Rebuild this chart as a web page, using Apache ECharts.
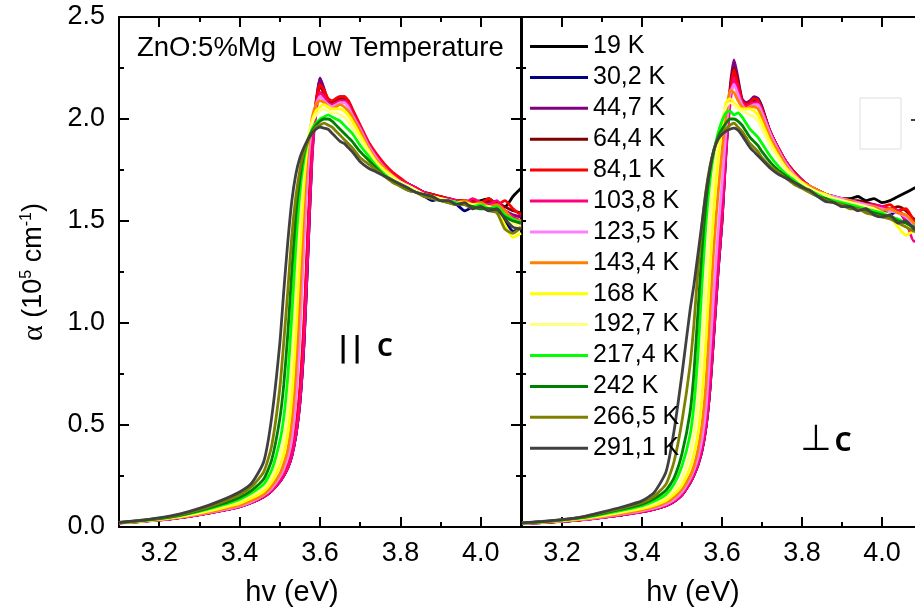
<!DOCTYPE html>
<html>
<head>
<meta charset="utf-8">
<title>ZnO:5%Mg absorption edge</title>
<script src="https://cdn.jsdelivr.net/npm/echarts@6/dist/echarts.min.js"></script>
<style>
  html, body { margin: 0; padding: 0; background: #fff; }
  #chart { width: 915px; height: 611px; }
</style>
</head>
<body>
<div id="chart"></div>
<script>
// Photon energy grids (eV) for the two polarisations
const xPar = [3.10,3.15,3.20,3.25,3.30,3.35,3.40,3.43,3.46,3.48,3.50,
  3.51,3.52,3.53,3.54,3.55,3.56,3.57,3.58,3.59,3.60,
  3.61,3.62,3.63,3.64,3.65,3.66,3.67,3.68,
  3.70,3.72,3.74,3.76,3.78,3.80,3.82,3.84,3.86,3.88,3.90,3.92,3.94,3.96,3.98,4.00,4.02,4.04,4.06,4.08,4.10];
const xPerp = [3.10,3.15,3.20,3.25,3.30,3.35,3.40,3.43,3.46,3.48,3.50,
  3.52,3.53,3.54,3.55,3.56,3.57,3.58,3.59,3.60,3.61,3.62,3.63,3.64,3.65,3.66,3.67,3.68,3.69,3.70,
  3.72,3.74,3.76,3.78,3.80,3.82,3.84,3.86,3.88,3.90,3.92,3.94,3.96,3.98,4.00,4.02,4.04,4.06,4.08,4.10];

// Temperatures
const temps = ['19 K','30,2 K','44,7 K','64,4 K','84,1 K','103,8 K','123,5 K','143,4 K',
  '168 K','192,7 K','217,4 K','242 K','266,5 K','291,1 K'];

// Absorption coefficient, E || c (10^5 cm^-1)
const par_19 = [0.020,0.027,0.035,0.046,0.061,0.079,0.100,0.120,0.148,0.178,0.222,
  0.252,0.29,0.35,0.45,0.61,0.90,1.35,1.82,2.05,2.18,
  2.12,2.07,2.06,2.08,2.09,2.09,2.07,2.03,
  1.95,1.87,1.81,1.77,1.73,1.70,1.68,1.66,1.64,1.63,1.62,1.61,1.60,1.60,1.59,1.60,1.61,1.58,1.57,1.62,1.66];
const par_30 = [0.020,0.027,0.035,0.046,0.061,0.079,0.100,0.120,0.148,0.178,0.222,
  0.252,0.29,0.35,0.45,0.61,0.89,1.34,1.82,2.06,2.20,
  2.14,2.08,2.07,2.09,2.10,2.10,2.08,2.04,
  1.95,1.87,1.81,1.77,1.73,1.70,1.67,1.65,1.62,1.60,1.61,1.60,1.58,1.55,1.57,1.58,1.56,1.55,1.50,1.45,1.47];
const par_44 = [0.020,0.027,0.035,0.046,0.061,0.079,0.100,0.120,0.149,0.179,0.224,
  0.255,0.295,0.36,0.47,0.64,0.94,1.40,1.86,2.08,2.20,
  2.15,2.09,2.08,2.10,2.11,2.11,2.09,2.05,
  1.96,1.88,1.82,1.77,1.73,1.70,1.68,1.66,1.64,1.62,1.62,1.60,1.59,1.59,1.58,1.58,1.59,1.57,1.55,1.53,1.52];
const par_64 = [0.020,0.027,0.035,0.046,0.061,0.079,0.100,0.121,0.150,0.180,0.226,
  0.258,0.30,0.37,0.48,0.66,0.97,1.43,1.86,2.06,2.16,
  2.13,2.09,2.08,2.09,2.10,2.10,2.08,2.04,
  1.96,1.88,1.82,1.77,1.73,1.70,1.68,1.66,1.64,1.63,1.61,1.60,1.60,1.59,1.60,1.58,1.60,1.59,1.57,1.55,1.54];
const par_84 = [0.020,0.027,0.035,0.046,0.061,0.079,0.100,0.121,0.150,0.181,0.228,
  0.260,0.305,0.375,0.49,0.68,1.00,1.46,1.88,2.08,2.17,
  2.14,2.10,2.09,2.10,2.11,2.11,2.09,2.05,
  1.97,1.89,1.83,1.78,1.74,1.71,1.68,1.66,1.64,1.63,1.62,1.61,1.60,1.60,1.59,1.59,1.61,1.58,1.60,1.56,1.53];
const par_103 = [0.019,0.026,0.034,0.045,0.060,0.078,0.099,0.120,0.148,0.178,0.222,
  0.252,0.29,0.35,0.45,0.61,0.90,1.35,1.80,2.03,2.13,
  2.11,2.08,2.07,2.08,2.09,2.09,2.07,2.03,
  1.96,1.88,1.82,1.77,1.73,1.70,1.68,1.66,1.64,1.62,1.61,1.61,1.60,1.59,1.61,1.59,1.58,1.60,1.55,1.52,1.50];
const par_123 = [0.020,0.027,0.035,0.047,0.062,0.080,0.102,0.124,0.156,0.190,0.245,
  0.285,0.34,0.43,0.62,0.95,1.38,1.76,1.97,2.07,2.11,
  2.09,2.07,2.06,2.07,2.08,2.08,2.06,2.02,
  1.95,1.87,1.81,1.76,1.72,1.69,1.67,1.65,1.63,1.62,1.61,1.60,1.59,1.58,1.57,1.58,1.56,1.57,1.53,1.50,1.48];
const par_143 = [0.020,0.027,0.036,0.048,0.064,0.084,0.107,0.130,0.160,0.200,0.260,
  0.31,0.38,0.52,0.76,1.12,1.55,1.86,2.00,2.07,2.09,
  2.08,2.06,2.05,2.06,2.07,2.06,2.04,2.01,
  1.94,1.86,1.80,1.76,1.72,1.69,1.67,1.65,1.63,1.62,1.61,1.60,1.59,1.60,1.58,1.59,1.57,1.58,1.55,1.51,1.50];
const par_168 = [0.020,0.028,0.037,0.050,0.068,0.090,0.116,0.142,0.175,0.22,0.30,
  0.36,0.46,0.64,0.95,1.33,1.68,1.89,1.99,2.04,2.06,
  2.07,2.06,2.05,2.05,2.05,2.04,2.02,1.99,
  1.92,1.85,1.79,1.75,1.72,1.69,1.67,1.65,1.63,1.62,1.61,1.60,1.59,1.59,1.58,1.58,1.56,1.55,1.48,1.42,1.44];
const par_192 = [0.021,0.029,0.039,0.053,0.072,0.097,0.126,0.155,0.19,0.245,0.35,
  0.43,0.57,0.82,1.18,1.52,1.77,1.91,1.98,2.02,2.04,
  2.05,2.04,2.03,2.03,2.02,2.01,1.99,1.96,
  1.90,1.84,1.78,1.74,1.71,1.69,1.67,1.65,1.63,1.62,1.61,1.60,1.59,1.58,1.58,1.57,1.57,1.55,1.52,1.49,1.47];
const par_217 = [0.021,0.030,0.040,0.055,0.076,0.103,0.135,0.167,0.21,0.28,0.42,
  0.54,0.74,1.04,1.38,1.64,1.80,1.89,1.95,1.98,2.00,
  2.01,2.02,2.01,2.00,1.99,1.97,1.95,1.93,
  1.87,1.82,1.77,1.73,1.70,1.68,1.66,1.64,1.63,1.62,1.60,1.60,1.59,1.58,1.57,1.58,1.56,1.57,1.53,1.51,1.49];
const par_242 = [0.021,0.030,0.041,0.057,0.080,0.109,0.145,0.180,0.235,0.33,0.53,
  0.70,0.95,1.26,1.53,1.71,1.83,1.90,1.94,1.97,1.99,
  2.00,2.00,1.99,1.97,1.95,1.93,1.91,1.89,
  1.84,1.80,1.76,1.72,1.70,1.67,1.65,1.64,1.62,1.61,1.60,1.59,1.58,1.58,1.57,1.56,1.56,1.55,1.52,1.50,1.49];
const par_266 = [0.022,0.031,0.043,0.060,0.085,0.117,0.158,0.198,0.27,0.40,0.68,
  0.91,1.16,1.43,1.62,1.75,1.84,1.89,1.93,1.96,1.97,
  1.98,1.97,1.96,1.94,1.92,1.90,1.88,1.86,
  1.81,1.78,1.75,1.72,1.69,1.67,1.65,1.64,1.62,1.61,1.60,1.59,1.58,1.58,1.56,1.57,1.55,1.54,1.46,1.44,1.47];
const par_291 = [0.022,0.032,0.045,0.063,0.091,0.127,0.172,0.215,0.32,0.54,0.90,
  1.16,1.40,1.60,1.73,1.81,1.86,1.90,1.93,1.95,1.96,
  1.955,1.95,1.93,1.91,1.89,1.88,1.86,1.84,
  1.79,1.76,1.74,1.72,1.70,1.68,1.66,1.64,1.63,1.62,1.60,1.60,1.58,1.59,1.56,1.57,1.55,1.56,1.51,1.47,1.46];

// Absorption coefficient, E ⊥ c (10^5 cm^-1)
const perp_19 = [0.018,0.022,0.028,0.036,0.047,0.060,0.075,0.087,0.105,0.125,0.158,
  0.215,0.255,0.305,0.375,0.49,0.68,0.96,1.25,1.50,1.84,2.10,2.24,2.16,2.08,2.06,2.07,2.09,2.09,2.05,
  1.94,1.86,1.79,1.73,1.70,1.67,1.65,1.63,1.62,1.61,1.61,1.62,1.60,1.61,1.59,1.60,1.62,1.64,1.66,1.68];
const perp_30 = [0.018,0.022,0.028,0.036,0.047,0.060,0.075,0.087,0.105,0.125,0.158,
  0.215,0.255,0.305,0.375,0.49,0.68,0.96,1.25,1.50,1.85,2.12,2.27,2.18,2.09,2.07,2.08,2.10,2.10,2.06,
  1.94,1.86,1.79,1.74,1.70,1.67,1.65,1.63,1.61,1.60,1.59,1.58,1.57,1.56,1.55,1.53,1.55,1.50,1.47,1.46];
const perp_44 = [0.018,0.022,0.028,0.036,0.047,0.060,0.075,0.088,0.106,0.127,0.160,
  0.22,0.26,0.31,0.385,0.50,0.70,0.99,1.28,1.53,1.88,2.15,2.29,2.20,2.10,2.08,2.09,2.11,2.10,2.05,
  1.93,1.85,1.79,1.74,1.70,1.67,1.65,1.63,1.62,1.60,1.60,1.59,1.58,1.57,1.56,1.55,1.55,1.52,1.50,1.48];
const perp_64 = [0.018,0.022,0.028,0.036,0.047,0.060,0.075,0.088,0.106,0.127,0.161,
  0.22,0.265,0.315,0.39,0.51,0.72,1.01,1.30,1.55,1.88,2.13,2.25,2.18,2.09,2.07,2.08,2.10,2.09,2.05,
  1.94,1.86,1.79,1.74,1.70,1.67,1.65,1.63,1.62,1.61,1.60,1.60,1.59,1.58,1.57,1.56,1.57,1.55,1.51,1.49];
const perp_84 = [0.018,0.022,0.028,0.036,0.047,0.060,0.075,0.088,0.107,0.128,0.162,
  0.225,0.27,0.32,0.40,0.52,0.74,1.03,1.32,1.56,1.88,2.12,2.24,2.17,2.09,2.07,2.08,2.10,2.09,2.05,
  1.94,1.86,1.79,1.74,1.70,1.67,1.65,1.63,1.61,1.61,1.60,1.59,1.58,1.57,1.57,1.58,1.55,1.56,1.50,1.47];
const perp_103 = [0.018,0.022,0.028,0.035,0.046,0.059,0.074,0.086,0.104,0.124,0.157,
  0.215,0.255,0.305,0.375,0.49,0.68,0.96,1.25,1.50,1.83,2.07,2.20,2.14,2.08,2.06,2.07,2.08,2.08,2.04,
  1.94,1.86,1.79,1.73,1.70,1.67,1.65,1.63,1.62,1.60,1.60,1.59,1.58,1.58,1.57,1.56,1.55,1.50,1.40,1.42];
const perp_123 = [0.018,0.023,0.029,0.037,0.049,0.063,0.079,0.092,0.112,0.134,0.172,
  0.235,0.28,0.34,0.43,0.58,0.86,1.16,1.44,1.68,1.94,2.12,2.17,2.12,2.07,2.05,2.06,2.07,2.07,2.03,
  1.93,1.85,1.78,1.73,1.69,1.67,1.65,1.63,1.62,1.61,1.60,1.59,1.58,1.57,1.56,1.55,1.54,1.52,1.48,1.46];
const perp_143 = [0.019,0.023,0.030,0.039,0.052,0.067,0.084,0.098,0.120,0.145,0.185,
  0.25,0.30,0.38,0.50,0.70,1.05,1.38,1.63,1.84,2.02,2.14,2.13,2.09,2.06,2.05,2.06,2.06,2.05,2.01,
  1.91,1.84,1.77,1.72,1.69,1.67,1.65,1.63,1.61,1.60,1.60,1.58,1.57,1.57,1.55,1.56,1.54,1.53,1.49,1.47];
const perp_168 = [0.019,0.024,0.031,0.041,0.055,0.072,0.090,0.106,0.130,0.160,0.205,
  0.29,0.36,0.46,0.64,0.92,1.27,1.57,1.80,1.96,2.08,2.10,2.08,2.06,2.05,2.05,2.05,2.04,2.02,1.98,
  1.89,1.82,1.76,1.72,1.69,1.66,1.64,1.63,1.61,1.60,1.59,1.58,1.57,1.55,1.54,1.52,1.47,1.43,1.45,1.44];
const perp_192 = [0.019,0.025,0.033,0.043,0.059,0.077,0.097,0.116,0.145,0.18,0.24,
  0.36,0.46,0.62,0.88,1.22,1.52,1.74,1.89,1.99,2.06,2.08,2.07,2.05,2.04,2.03,2.02,2.01,1.99,1.95,
  1.87,1.81,1.75,1.71,1.68,1.66,1.64,1.62,1.61,1.60,1.59,1.58,1.57,1.56,1.54,1.53,1.50,1.48,1.46,1.47];
const perp_217 = [0.019,0.025,0.034,0.045,0.062,0.082,0.104,0.126,0.16,0.21,0.30,
  0.45,0.60,0.85,1.19,1.49,1.70,1.84,1.93,1.99,2.03,2.04,2.02,2.03,2.01,1.98,1.95,1.93,1.91,1.88,
  1.82,1.77,1.73,1.70,1.67,1.65,1.63,1.61,1.60,1.59,1.58,1.57,1.56,1.55,1.54,1.52,1.51,1.49,1.47,1.48];
const perp_242 = [0.019,0.026,0.035,0.047,0.066,0.087,0.112,0.138,0.18,0.24,0.36,
  0.56,0.76,1.06,1.36,1.59,1.75,1.85,1.91,1.95,1.98,2.00,2.00,1.99,1.97,1.94,1.91,1.89,1.87,1.84,
  1.79,1.75,1.72,1.69,1.67,1.64,1.62,1.61,1.59,1.58,1.57,1.56,1.55,1.54,1.53,1.52,1.50,1.49,1.47,1.46];
const perp_266 = [0.020,0.026,0.035,0.048,0.069,0.092,0.119,0.150,0.21,0.32,0.52,
  0.79,1.00,1.26,1.48,1.65,1.77,1.85,1.90,1.93,1.95,1.97,1.98,1.96,1.94,1.91,1.88,1.86,1.84,1.81,
  1.77,1.74,1.71,1.68,1.66,1.64,1.62,1.60,1.59,1.58,1.56,1.56,1.54,1.53,1.52,1.51,1.49,1.47,1.45,1.44];
const perp_291 = [0.020,0.027,0.036,0.050,0.073,0.098,0.128,0.168,0.27,0.47,0.75,
  1.06,1.19,1.34,1.49,1.64,1.76,1.85,1.90,1.925,1.94,1.95,1.955,1.945,1.92,1.89,1.86,1.84,1.82,1.80,
  1.76,1.73,1.71,1.69,1.665,1.65,1.62,1.595,1.59,1.57,1.57,1.55,1.56,1.53,1.52,1.53,1.49,1.50,1.46,1.45];

// Axis tick positions
const xMajorTicks = [3.2, 3.4, 3.6, 3.8, 4.0];
const xMinorTicks = [3.3, 3.5, 3.7, 3.9];

const parSets = [par_19, par_30, par_44, par_64, par_84, par_103, par_123, par_143,
  par_168, par_192, par_217, par_242, par_266, par_291];
const perpSets = [perp_19, perp_30, perp_44, perp_64, perp_84, perp_103, perp_123, perp_143,
  perp_168, perp_192, perp_217, perp_242, perp_266, perp_291];

const lineColors = ['#000000','#000080','#800080','#800000','#ff0000','#ff0080','#ff80ff','#ff8000',
  '#ffff00','#ffff80','#00ff00','#008000','#808000','#404040'];

const FONT = "'Liberation Sans', Arial, sans-serif";
const AXIS_COLOR = '#000';

const chart = echarts.init(document.getElementById('chart'), null, { renderer: 'canvas' });

function xAxisPair(gridIndex, position, withLabels) {
  const base = {
    gridIndex, type: 'value', min: 3.1, max: 4.1, position,
    splitLine: { show: false }
  };
  const major = Object.assign({}, base, {
    axisLine: { show: true, onZero: false, lineStyle: { color: AXIS_COLOR, width: 2 } },
    axisTick: { show: true, inside: true, length: 10, customValues: xMajorTicks,
      lineStyle: { color: AXIS_COLOR, width: 2 } },
    axisLabel: withLabels ? {
      show: true, customValues: xMajorTicks, margin: 13,
      formatter: v => v.toFixed(1), fontSize: 27, fontFamily: FONT, color: '#000'
    } : { show: false }
  });
  const minor = Object.assign({}, base, {
    axisLine: { show: false, onZero: false },
    axisTick: { show: true, inside: true, length: 5, customValues: xMinorTicks,
      lineStyle: { color: AXIS_COLOR, width: 2 } },
    axisLabel: { show: false }
  });
  return [major, minor];
}

const xAxes = [].concat(
  xAxisPair(0, 'bottom', true),   // 0,1
  xAxisPair(0, 'top', false),     // 2,3
  xAxisPair(1, 'bottom', true),   // 4,5
  xAxisPair(1, 'top', false)      // 6,7
);

const yCommon = {
  type: 'value', min: 0, max: 2.5, interval: 0.5,
  splitLine: { show: false },
  axisLine: { show: true, onZero: false, lineStyle: { color: AXIS_COLOR, width: 2 } }
};

const yAxes = [
  Object.assign({}, yCommon, {
    gridIndex: 0, position: 'left',
    axisTick: { show: true, inside: true, length: 10, lineStyle: { color: AXIS_COLOR, width: 2 } },
    minorTick: { show: true, splitNumber: 2, length: 5, lineStyle: { color: AXIS_COLOR, width: 2 } },
    axisLabel: { show: true, margin: 14, formatter: v => v.toFixed(1),
      fontSize: 27, fontFamily: FONT, color: '#000' },
    name: '{a|α} (10{s|5} cm{s|-1})',
    nameLocation: 'middle',
    nameGap: 70,
    nameTextStyle: {
      color: '#000', fontSize: 27, fontFamily: FONT,
      rich: {
        a: { fontFamily: "'Liberation Serif', 'DejaVu Serif', serif", fontSize: 30, color: '#000' },
        s: { fontSize: 16, fontFamily: FONT, color: '#000', verticalAlign: 'top', lineHeight: 30 }
      }
    }
  }),
  Object.assign({}, yCommon, {
    gridIndex: 0, position: 'right',
    axisTick: { show: true, inside: true, length: 10, lineStyle: { color: AXIS_COLOR, width: 2 } },
    minorTick: { show: true, splitNumber: 2, length: 5, lineStyle: { color: AXIS_COLOR, width: 2 } },
    axisLabel: { show: false }
  }),
  Object.assign({}, yCommon, {
    gridIndex: 1, position: 'left',
    axisTick: { show: true, inside: true, length: 4, lineStyle: { color: AXIS_COLOR, width: 2 } },
    minorTick: { show: true, splitNumber: 2, length: 4, lineStyle: { color: AXIS_COLOR, width: 2 } },
    axisLabel: { show: false }
  })
];

const series = [];
temps.forEach((name, i) => {
  const common = {
    name, type: 'line', showSymbol: false, symbol: 'none',
    smooth: 0.2, color: lineColors[i],
    lineStyle: { width: 2.8, color: lineColors[i] },
    emphasis: { disabled: true }, animation: false, clip: true
  };
  series.push(Object.assign({}, common, {
    xAxisIndex: 0, yAxisIndex: 0,
    data: xPar.map((x, j) => [x, parSets[i][j]])
  }));
  series.push(Object.assign({}, common, {
    xAxisIndex: 4, yAxisIndex: 2,
    data: xPerp.map((x, j) => [x, perpSets[i][j]])
  }));
});

const option = {
  animation: false,
  backgroundColor: '#fff',
  title: {
    text: 'ZnO:5%Mg  Low Temperature',
    left: 137, top: 34, padding: 0,
    textStyle: { fontSize: 27.5, fontWeight: 'normal', color: '#000', fontFamily: FONT }
  },
  legend: {
    orient: 'vertical', left: 530, top: 34, padding: 0,
    data: temps, icon: 'rect', itemWidth: 58, itemHeight: 3, itemGap: 5.9,
    textStyle: { fontSize: 25, lineHeight: 25, color: '#000', fontFamily: FONT },
    selectedMode: false
  },
  grid: [
    { left: 119, top: 17, width: 402, height: 510, outerBoundsMode: 'none', containLabel: false },
    { left: 522, top: 17, width: 400, height: 510, outerBoundsMode: 'none', containLabel: false }
  ],
  xAxis: xAxes,
  yAxis: yAxes,
  series,
  graphic: [
    { type: 'text', x: 292, y: 593, style: { text: 'hv (eV)', fontSize: 29, fontFamily: FONT,
        fill: '#000', align: 'center', verticalAlign: 'middle' } },
    { type: 'text', x: 693, y: 593, style: { text: 'hv (eV)', fontSize: 29, fontFamily: FONT,
        fill: '#000', align: 'center', verticalAlign: 'middle' } },
    { type: 'text', x: 343, y: 350, style: { text: '|', fontSize: 28, fontWeight: 'bold',
        fontFamily: "'DejaVu Sans', sans-serif", fill: '#000', align: 'center', verticalAlign: 'middle' } },
    { type: 'text', x: 357, y: 350, style: { text: '|', fontSize: 28, fontWeight: 'bold',
        fontFamily: "'DejaVu Sans', sans-serif", fill: '#000', align: 'center', verticalAlign: 'middle' } },
    { type: 'text', x: 385, y: 349, style: { text: 'C', fontSize: 25, fontWeight: 'bold',
        fontFamily: "'Open Sans', sans-serif", fill: '#000', align: 'center', verticalAlign: 'middle' } },
    { type: 'text', x: 816, y: 441, style: { text: '⊥', fontSize: 36,
        fontFamily: "'DejaVu Sans', sans-serif", fill: '#000', align: 'center', verticalAlign: 'middle' } },
    { type: 'text', x: 843, y: 443, style: { text: 'C', fontSize: 27, fontWeight: 'bold',
        fontFamily: "'Open Sans', sans-serif", fill: '#000', align: 'center', verticalAlign: 'middle' } },
    { type: 'rect', shape: { x: 860, y: 98, width: 41, height: 51 },
      style: { fill: 'none', stroke: '#dedede', lineWidth: 1 } },
    { type: 'line', shape: { x1: 911, y1: 120, x2: 915, y2: 120 },
      style: { stroke: '#000', lineWidth: 1.5 } }
  ]
};

chart.setOption(option);
</script>
</body>
</html>
